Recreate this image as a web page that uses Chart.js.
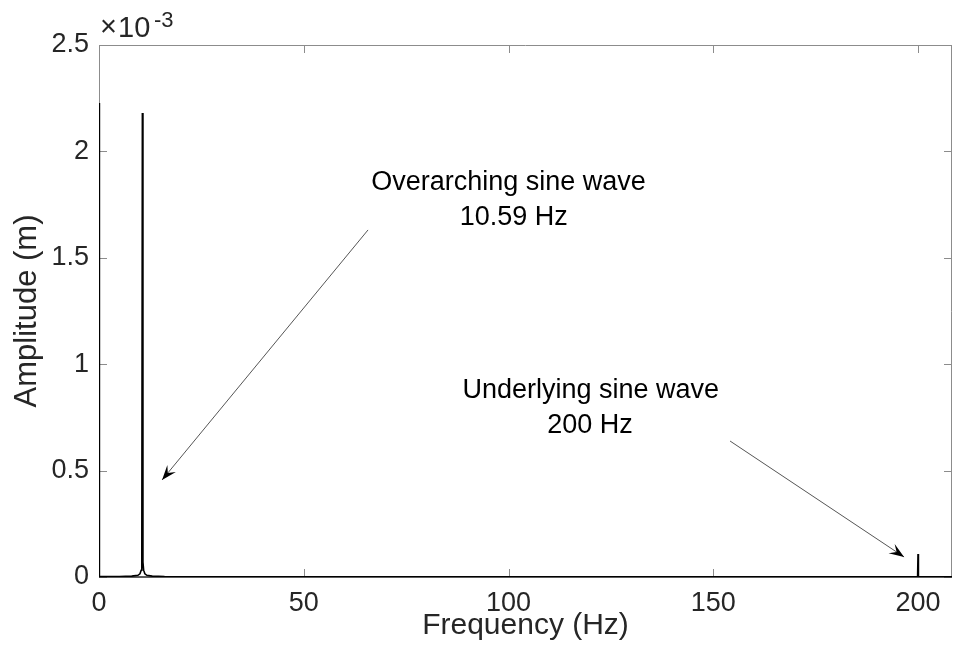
<!DOCTYPE html>
<html>
<head>
<meta charset="utf-8">
<script src="https://cdn.jsdelivr.net/npm/chart.js@4.4.0/dist/chart.umd.min.js"></script>
<style>
  html, body { margin: 0; padding: 0; background: #fff; }
  #wrap { width: 953px; height: 649px; }
</style>
</head>
<body>
<div id="wrap"><canvas id="fft" width="953" height="649"></canvas></div>
<script>
// single-sided amplitude spectrum, amplitude in units of 1e-3 m
const freqHz = [0, 0.1, 2, 5, 8, 9.5, 10.0, 10.3, 10.45, 10.59, 10.73, 10.9, 11.2, 11.7, 13, 16, 25, 50, 100, 150, 199.9, 200, 200.1, 208.3];
const ampE3 = [2.227, 0.003, 0.002, 0.002, 0.004, 0.008, 0.015, 0.032, 0.07, 2.18, 0.07, 0.032, 0.015, 0.008, 0.004, 0.002, 0.001, 0.001, 0.001, 0.001, 0.001, 0.108, 0.001, 0.001];

const xTicks = [0, 50, 100, 150, 200];
const yTicks = [0, 0.5, 1, 1.5, 2, 2.5];
const xMax = 208.3;

const FONT = '"Liberation Sans", Arial, Helvetica, sans-serif';
const INK = '#262626';

// callout text, centred on (x Hz, y 1e-3 m) at the baseline
const notes = [
  {text: 'Overarching sine wave', x: 100.0, y: 1.82},
  {text: '10.59 Hz', x: 101.3, y: 1.654},
  {text: 'Underlying sine wave', x: 120.1, y: 0.841},
  {text: '200 Hz', x: 119.9, y: 0.677},
];

// callout arrows, tail -> head
const arrows = [
  {x0: 65.7, y0: 1.631, x1: 15.4, y1: 0.456},
  {x0: 154.1, y0: 0.639, x1: 196.6, y1: 0.094},
];

function drawArrow(ctx, ax, ay, bx, by) {
  ctx.strokeStyle = '#555';
  ctx.lineWidth = 1;
  ctx.beginPath();
  ctx.moveTo(ax, ay);
  ctx.lineTo(bx, by);
  ctx.stroke();

  const ang = Math.atan2(by - ay, bx - ax);
  const len = 15, half = 5.5, notch = 9;
  const ux = Math.cos(ang), uy = Math.sin(ang);
  const nx = -uy, ny = ux;
  ctx.fillStyle = '#000';
  ctx.beginPath();
  ctx.moveTo(bx, by);
  ctx.lineTo(bx - ux * len + nx * half, by - uy * len + ny * half);
  ctx.lineTo(bx - ux * notch, by - uy * notch);
  ctx.lineTo(bx - ux * len - nx * half, by - uy * len - ny * half);
  ctx.closePath();
  ctx.fill();
}

const frame = {
  id: 'frame',
  beforeDatasetsDraw(chart) {
    const {ctx, chartArea: a, scales: {x, y}} = chart;
    ctx.save();
    ctx.lineWidth = 1;
    ctx.strokeStyle = '#8c8c8c';
    ctx.beginPath();
    // tick marks point inwards, mirrored on top and right
    xTicks.forEach(v => {
      const px = Math.round(x.getPixelForValue(v)) + 0.5;
      ctx.moveTo(px, a.bottom); ctx.lineTo(px, a.bottom - 8);
      ctx.moveTo(px, a.top); ctx.lineTo(px, a.top + 8);
    });
    yTicks.forEach(v => {
      const py = Math.round(y.getPixelForValue(v)) + 0.5;
      ctx.moveTo(a.left, py); ctx.lineTo(a.left + 8, py);
      ctx.moveTo(a.right, py); ctx.lineTo(a.right - 8, py);
    });
    ctx.stroke();

    ctx.beginPath();
    ctx.moveTo(a.left + 0.5, a.bottom);
    ctx.lineTo(a.left + 0.5, a.top + 0.5);
    ctx.lineTo(a.right - 0.5, a.top + 0.5);
    ctx.lineTo(a.right - 0.5, a.bottom);
    ctx.stroke();

    ctx.strokeStyle = INK;
    ctx.lineWidth = 1.5;
    ctx.beginPath();
    ctx.moveTo(a.left, a.bottom);
    ctx.lineTo(a.right, a.bottom);
    ctx.stroke();
    ctx.restore();
  },
  afterDraw(chart) {
    const {ctx, chartArea: a, scales: {x, y}} = chart;
    ctx.save();

    // axis exponent
    ctx.fillStyle = INK;
    ctx.textAlign = 'left';
    ctx.textBaseline = 'alphabetic';
    ctx.font = '29px ' + FONT;
    ctx.fillText('\u00d7', a.left + 1, 36);
    ctx.fillText('10', a.left + 19, 37);
    ctx.font = '22px ' + FONT;
    ctx.fillText('-3', a.left + 55, 27);

    ctx.font = '27px ' + FONT;
    ctx.textAlign = 'center';
    ctx.fillStyle = '#000';
    notes.forEach(n => {
      ctx.fillText(n.text, x.getPixelForValue(n.x), y.getPixelForValue(n.y));
    });

    arrows.forEach(r => {
      drawArrow(ctx,
        x.getPixelForValue(r.x0), y.getPixelForValue(r.y0),
        x.getPixelForValue(r.x1), y.getPixelForValue(r.y1));
    });
    ctx.restore();
  }
};

new Chart(document.getElementById('fft'), {
  type: 'scatter',
  data: {
    datasets: [{
      data: freqHz.map((f, i) => ({x: f, y: ampE3[i]})),
      showLine: true,
      borderColor: '#000',
      borderWidth: 1.6,
      pointRadius: 0,
      tension: 0,
    }]
  },
  options: {
    responsive: false,
    animation: false,
    layout: {padding: {top: 45, right: 1, left: 0, bottom: 0}},
    plugins: {legend: {display: false}, tooltip: {enabled: false}},
    scales: {
      x: {
        type: 'linear',
        min: 0,
        max: xMax,
        afterFit: s => { s.height = 72; },
        grid: {display: false, drawTicks: false},
        border: {display: false},
        ticks: {
          stepSize: 50,
          includeBounds: false,
          padding: 10,
          color: INK,
          font: {family: FONT, size: 27},
        },
        title: {
          display: true,
          text: 'Frequency (Hz)',
          color: INK,
          font: {family: FONT, size: 30},
          padding: {top: 0, bottom: 5},
        },
      },
      y: {
        min: 0,
        max: 2.5,
        afterFit: s => { s.width = 99; },
        grid: {display: false, drawTicks: false},
        border: {display: false},
        ticks: {
          stepSize: 0.5,
          padding: 10,
          color: INK,
          font: {family: FONT, size: 27},
          callback: v => String(Math.round(v * 10) / 10),
        },
        title: {
          display: true,
          text: 'Amplitude (m)',
          color: INK,
          font: {family: FONT, size: 31},
          padding: {top: 9, bottom: 0},
        },
      },
    },
  },
  plugins: [frame],
});
</script>
</body>
</html>
